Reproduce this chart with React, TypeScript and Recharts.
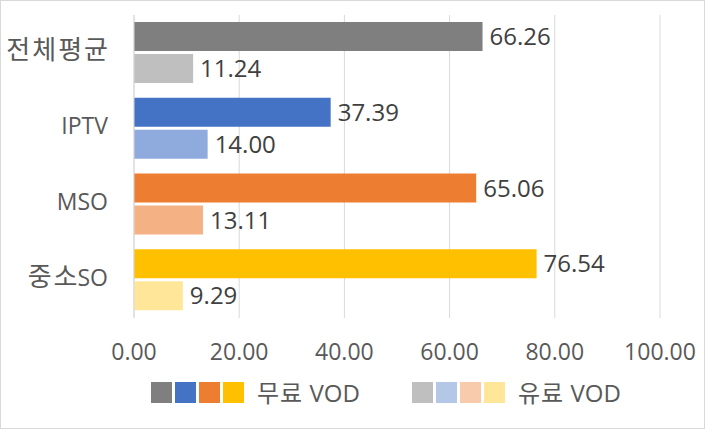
import React from 'react';
import { BarChart, Bar, XAxis, YAxis, CartesianGrid, Cell, LabelList, Legend } from 'recharts';

// chart values
const categories = ['전체평균', 'IPTV', 'MSO', '중소SO'];
const freeVod = [66.26, 37.39, 65.06, 76.54];
const paidVod = [11.24, 14.0, 13.11, 9.29];
const xTicks = [0, 20, 40, 60, 80, 100];
const legendNames = ['무료 VOD', '유료 VOD'];

// colours per category
const freeColors = ['#7f7f7f', '#4472c4', '#ed7d31', '#ffc000'];
const paidColors = ['#bfbfbf', '#8faadc', '#f4b183', '#ffe699'];
const paidLegendColors = ['#bfbfbf', '#b4c7e7', '#f8cbad', '#ffe699'];

const FONT = '"Open Sans", "Noto Sans CJK KR", sans-serif';
const TEXT = '#404040';
const AXIS_TEXT = '#595959';
const GRID = '#d9d9d9';
const HANGUL = /([\uac00-\ud7a3]+)/;

const data = categories.map((name, i) => ({
  name,
  free: freeVod[i],
  paid: paidVod[i],
}));

// hangul runs are drawn a bit larger/wider, like the original's Korean font
const CategoryTick = (props: any) => {
  const { x, y, payload } = props;
  const parts = String(payload.value).split(HANGUL).filter(Boolean);
  return (
    <text x={x} y={y} dy="0.36em" textAnchor="end" fill={AXIS_TEXT} fontFamily={FONT}>
      {parts.map((p, i) => {
        if (!HANGUL.test(p)) {
          return (
            <tspan key={i} fontSize={23}>
              {p}
            </tspan>
          );
        }
        // spacing only between hangul glyphs, not after the last one
        return (
          <React.Fragment key={i}>
            <tspan fontSize={26} letterSpacing={2}>
              {p.slice(0, -1)}
            </tspan>
            <tspan fontSize={26}>{p.slice(-1)}</tspan>
          </React.Fragment>
        );
      })}
    </text>
  );
};

const LegendLabel = ({ text }: { text: string }) => (
  <>
    {text.split(HANGUL).filter(Boolean).map((p, i) => (
      <span key={i} style={HANGUL.test(p) ? { letterSpacing: 1 } : undefined}>
        {p}
      </span>
    ))}
  </>
);

const renderLegend = () => {
  const groups = [
    { left: 151, colors: freeColors, label: legendNames[0] },
    { left: 412, colors: paidLegendColors, label: legendNames[1] },
  ];
  return (
    <div style={{ position: 'relative', height: 52, fontFamily: FONT, fontSize: 24, color: AXIS_TEXT }}>
      {groups.map((g) => (
        <div
          key={g.label}
          style={{ position: 'absolute', left: g.left, top: 4, display: 'flex', alignItems: 'center', height: 21 }}
        >
          {g.colors.map((c) => (
            <span key={c} style={{ display: 'inline-block', width: 21, height: 21, background: c, marginRight: 3 }} />
          ))}
          <span style={{ marginLeft: 10, lineHeight: '21px', whiteSpace: 'nowrap' }}>
            <LegendLabel text={g.label} />
          </span>
        </div>
      ))}
    </div>
  );
};

export default function App() {
  return (
    <div style={{ position: 'absolute', left: 0, top: 0, width: 706, height: 430, background: '#fff' }}>
      <BarChart
        width={706}
        height={430}
        data={data}
        layout="vertical"
        margin={{ top: 15, right: 46, bottom: 0, left: 0 }}
        barSize={29}
        barGap={3}
        style={{ fontFamily: FONT }}
      >
        <CartesianGrid horizontal={false} vertical={true} stroke={GRID} strokeWidth={1} />
        <XAxis
          type="number"
          domain={[0, 100]}
          ticks={xTicks}
          axisLine={false}
          tickLine={false}
          tickSize={0}
          tickMargin={26}
          height={60}
          interval={0}
          tick={{ fontSize: 23, fill: AXIS_TEXT, fontFamily: FONT }}
          tickFormatter={(v: number) => v.toFixed(2)}
        />
        <YAxis
          type="category"
          dataKey="name"
          width={134}
          axisLine={{ stroke: GRID }}
          tickLine={false}
          tickSize={0}
          tickMargin={26}
          tick={<CategoryTick />}
        />
        <Legend verticalAlign="bottom" content={renderLegend} wrapperStyle={{ left: 0, width: 706 }} />
        <Bar dataKey="free" isAnimationActive={false}>
          {data.map((d, i) => (
            <Cell key={d.name} fill={freeColors[i]} />
          ))}
          <LabelList
            dataKey="free"
            position="right"
            offset={7}
            fill={TEXT}
            fontSize={24}
            fontFamily={FONT}
            formatter={(v: number) => Number(v).toFixed(2)}
          />
        </Bar>
        <Bar dataKey="paid" isAnimationActive={false}>
          {data.map((d, i) => (
            <Cell key={d.name} fill={paidColors[i]} />
          ))}
          <LabelList
            dataKey="paid"
            position="right"
            offset={7}
            fill={TEXT}
            fontSize={24}
            fontFamily={FONT}
            formatter={(v: number) => Number(v).toFixed(2)}
          />
        </Bar>
      </BarChart>
      <div
        style={{
          position: 'absolute',
          left: 0,
          top: 0,
          width: 705,
          height: 429,
          border: `1px solid ${GRID}`,
          boxSizing: 'border-box',
          pointerEvents: 'none',
        }}
      />
    </div>
  );
}
